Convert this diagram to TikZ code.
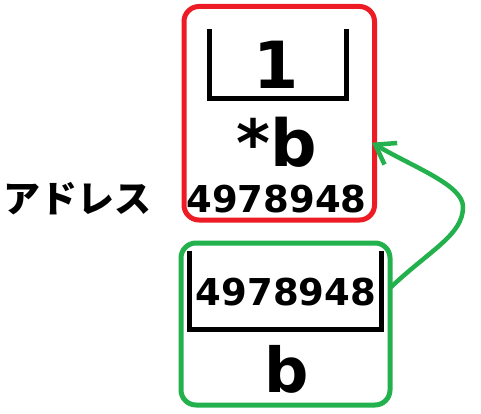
\documentclass[tikz,border=0pt]{standalone}
\usepackage{fontspec}
\usetikzlibrary{arrows.meta}
\newfontfamily\dvfont{DejaVu Sans}
\newfontfamily\jpfont{Noto Sans CJK JP}
\definecolor{pred}{RGB}{237,28,36}
\definecolor{pgreen}{RGB}{34,177,76}
\tikzset{
  box/.style={draw=#1, line width=5pt, rounded corners=15pt, inner sep=0pt, outer sep=0pt},
  bracketline/.style={draw=black, line width=5pt, line join=miter},
  bigtxt/.style={inner sep=0pt, anchor=base, font=\dvfont\bfseries\fontsize{65}{65}\selectfont},
  midtxt/.style={inner sep=0pt, anchor=base, font=\dvfont\bfseries\fontsize{37}{37}\selectfont},
  jptxt/.style={inner sep=0pt, anchor=base, font=\jpfont\bfseries\fontsize{37}{37}\selectfont},
  link/.style={draw=pgreen, line width=4.5pt, line cap=round, -{Straight Barb[length=18pt,width=25pt]}}
}
\begin{document}
\begin{tikzpicture}[x=1pt,y=-1pt]
\useasboundingbox (0,0) rectangle (481,414);
% boxes
\node[box=pred, minimum width=190.5pt, minimum height=213.5pt] (rbox) at (279.25,113.25) {};
\node[box=pgreen, minimum width=209pt, minimum height=162pt] (gbox) at (285.5,324) {};
% brackets
\draw[bracketline] (209,29) -- (209,99) -- (346.5,99) -- (346.5,29);
\draw[bracketline] (189.5,250.5) -- (189.5,329.7) -- (381,329.7) -- (381,250.5);
% texts
\node[bigtxt] (one) at (276,89) {1};
\node[bigtxt] (starb) at (277,166) {*b};
\node[midtxt] (addr1) at (276.5,212.5) {4978948};
\node[midtxt] (addr2) at (286,305) {4978948};
\node[bigtxt, font=\dvfont\bfseries\fontsize{62}{62}\selectfont] (bname) at (287,392) {b};
\node[jptxt] (label) at (77.5,212) {アドレス};
% arrow
\draw[link, shorten >=-3pt] (gbox.19.5) .. controls (430,250) and (463,235) .. (463,207)
   .. controls (463,185) and (415,168) .. (rbox.-18);
\end{tikzpicture}
\end{document}
